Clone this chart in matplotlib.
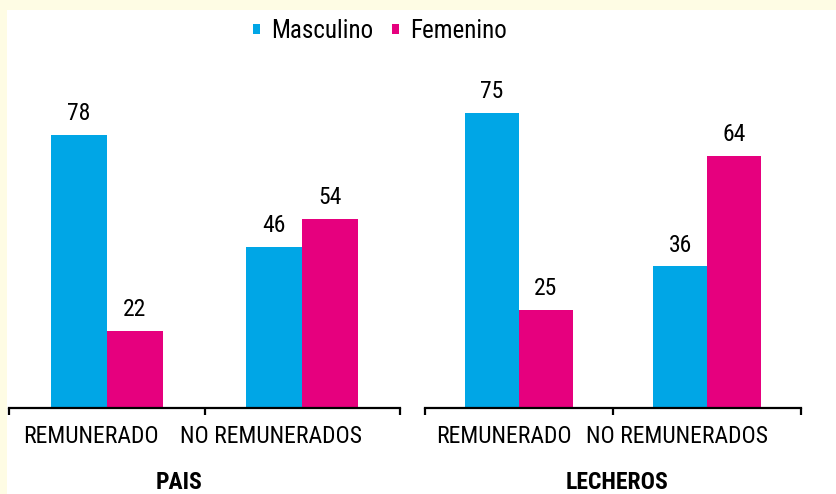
import matplotlib.pyplot as plt
from matplotlib.patches import Rectangle
from matplotlib.transforms import blended_transform_factory

plt.rcParams['font.family'] = ['Roboto Condensed', 'Archivo Narrow', 'Liberation Sans', 'DejaVu Sans']

# data
categories = ['REMUNERADO', 'NO REMUNERADOS']
series_names = ['Masculino', 'Femenino']
pais_masc = [78, 46]
pais_fem = [22, 54]
lech_masc = [75, 36]
lech_fem = [25, 64]
panel_titles = ['PAIS', 'LECHEROS']

blue = '#00A6E6'
pink = '#E6007E'

fig = plt.figure(figsize=(8.36, 4.94), dpi=100)
fig.patch.set_facecolor('#FEFCE4')
fig.patches.append(Rectangle((7 / 836, 0), 1, 1 - 10 / 494, transform=fig.transFigure,
                             facecolor='white', edgecolor='none', zorder=-5))

ax1 = fig.add_axes([9 / 836, 86 / 494, 391 / 836, 315 / 494])
ax2 = fig.add_axes([425 / 836, 86 / 494, 376 / 836, 315 / 494])

panels = [(ax1, pais_masc, pais_fem, 90, 0.37), (ax2, lech_masc, lech_fem, 80, 0.52)]
w = 0.286
x = [0, 1]
label_pos = [-0.08, 0.84]

for (ax, masc, fem, ymax, tx), title in zip(panels, panel_titles):
    ax.set_facecolor('none')
    ax.set_zorder(2)
    b1 = ax.bar([i - w / 2 for i in x], masc, w, color=blue, label=series_names[0])
    b2 = ax.bar([i + w / 2 for i in x], fem, w, color=pink, label=series_names[1])
    for bars in (b1, b2):
        for r in bars:
            ax.annotate(f'{r.get_height():g}', (r.get_x() + r.get_width() / 2, r.get_height()),
                        xytext=(0, 10.5), textcoords='offset points',
                        ha='center', va='baseline', fontsize=17)
    ax.set_xlim(-0.5, 1.5)
    ax.set_ylim(0, ymax)
    for s in ['top', 'right', 'left']:
        ax.spines[s].set_visible(False)
    ax.spines['bottom'].set_linewidth(1.6)
    ax.set_yticks([])
    ax.set_xticks([-0.5, 0.5, 1.5])
    ax.set_xticklabels([])
    ax.tick_params(axis='x', length=5, width=1.6, direction='out')
    tr = blended_transform_factory(ax.transData, ax.transAxes)
    for pos, lab in zip(label_pos, categories):
        ax.annotate(lab, (pos, 0), xycoords=tr, xytext=(0, -25), textcoords='offset points',
                    ha='center', va='baseline', fontsize=17)
    ax.annotate(title, (tx, 0), xycoords=tr, xytext=(0, -58), textcoords='offset points',
                ha='center', va='baseline', fontsize=17, fontweight='bold')

handles, labels = ax1.get_legend_handles_labels()
fig.legend(handles, labels, loc='center', bbox_to_anchor=(380 / 836, 1 - 31 / 494),
           ncol=2, frameon=False, fontsize=18, handlelength=0.28, handleheight=0.22,
           handletextpad=0.45, columnspacing=0.75)

plt.savefig('out.png', dpi=100, facecolor=fig.get_facecolor())
